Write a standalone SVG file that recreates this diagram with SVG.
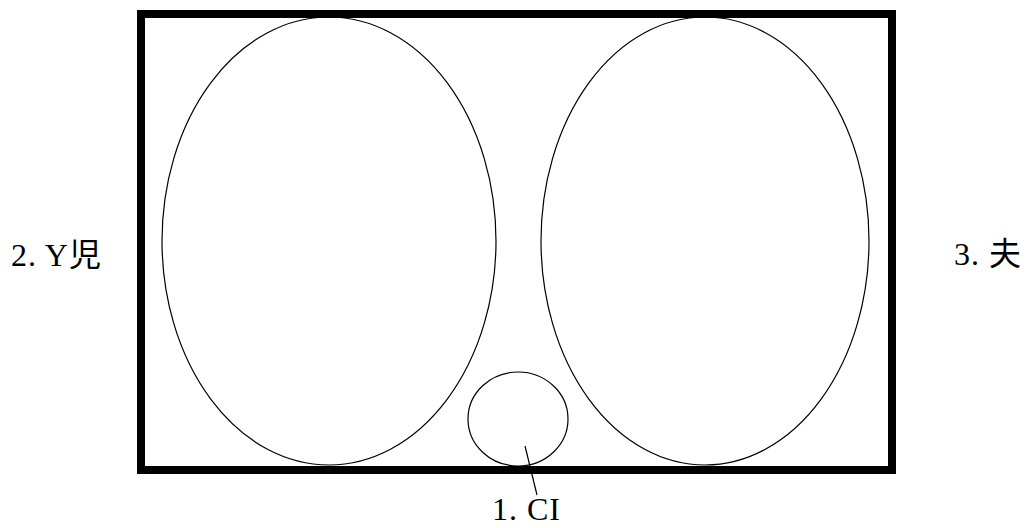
<svg xmlns="http://www.w3.org/2000/svg" width="1028" height="528" viewBox="0 0 1028 528">
<style>
.lbl{font-family:"Liberation Serif","Noto Sans CJK JP",serif;font-size:32px;fill:#000;letter-spacing:1px}
.sh{fill:none;stroke:#000;stroke-width:1.2}
</style>
<rect width="1028" height="528" fill="#fff"/>
<g id="frame"><rect x="141" y="14" width="751" height="456" fill="none" stroke="#000" stroke-width="8"/></g>
<g id="left"><ellipse class="sh" cx="329" cy="241" rx="167" ry="224"/></g>
<g id="right"><ellipse class="sh" cx="705" cy="241" rx="164" ry="224"/></g>
<g id="ci"><ellipse class="sh" cx="518" cy="419" rx="50" ry="47"/></g>
<g id="connectors"><line class="sh" x1="525" y1="446" x2="537" y2="495"/></g>
<g id="label1"><text class="lbl" x="492" y="520">1. CI</text></g>
<g id="label2"><text class="lbl" x="11" y="266">2. Y児</text></g>
<g id="label3"><text class="lbl" x="954" y="265">3. 夫</text></g>
</svg>
